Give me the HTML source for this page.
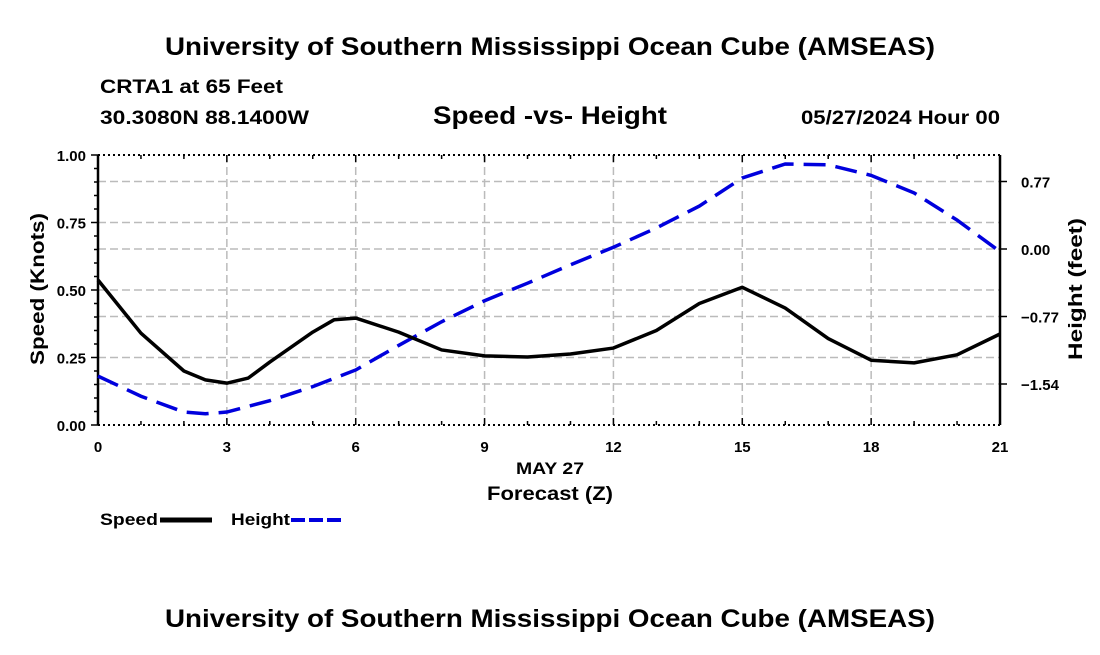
<!DOCTYPE html>
<html><head><meta charset="utf-8"><style>
body{margin:0;background:#fff;width:1100px;height:650px;overflow:hidden}
svg text{font-family:"Liberation Sans",sans-serif;font-weight:bold}
</style></head><body>
<svg id="c" width="1100" height="650">
<text x="165" y="55" font-size="25" textLength="770" lengthAdjust="spacingAndGlyphs">University of Southern Mississippi Ocean Cube (AMSEAS)</text>
<text x="100" y="93" font-size="19" textLength="183" lengthAdjust="spacingAndGlyphs">CRTA1 at 65 Feet</text>
<text x="100" y="124" font-size="19" textLength="209" lengthAdjust="spacingAndGlyphs">30.3080N  88.1400W</text>
<text x="433" y="124" font-size="25" textLength="234" lengthAdjust="spacingAndGlyphs">Speed -vs- Height</text>
<text x="801" y="124" font-size="19" textLength="199" lengthAdjust="spacingAndGlyphs">05/27/2024 Hour 00</text>
<text x="165" y="627" font-size="25" textLength="770" lengthAdjust="spacingAndGlyphs">University of Southern Mississippi Ocean Cube (AMSEAS)</text>
<g id="g"></g>
<text x="516" y="474" font-size="17" textLength="68" lengthAdjust="spacingAndGlyphs">MAY 27</text>
<text x="487" y="500" font-size="19" textLength="126" lengthAdjust="spacingAndGlyphs">Forecast (Z)</text>
<text transform="translate(44,289) rotate(-90)" font-size="19" text-anchor="middle" textLength="152" lengthAdjust="spacingAndGlyphs">Speed (Knots)</text>
<text transform="translate(1082,289) rotate(-90)" font-size="19" text-anchor="middle" textLength="142" lengthAdjust="spacingAndGlyphs">Height (feet)</text>
<g>
<text x="100" y="525" font-size="17" textLength="58" lengthAdjust="spacingAndGlyphs">Speed</text>
<line x1="160" y1="520" x2="212" y2="520" stroke="#000" stroke-width="5"/>
<text x="231" y="525" font-size="17" textLength="59" lengthAdjust="spacingAndGlyphs">Height</text>
<line x1="291" y1="520" x2="342" y2="520" stroke="#0000dd" stroke-width="4" stroke-dasharray="14,4"/>
</g>
</svg>
<script>
const hours=[0,1,2,2.5,3,3.5,4,5,5.5,6,7,8,9,10,11,12,13,14,15,16,17,18,19,20,21];
const speed=[0.537,0.34,0.20,0.167,0.155,0.174,0.233,0.344,0.39,0.396,0.344,0.278,0.256,0.252,0.263,0.285,0.35,0.45,0.51,0.433,0.32,0.24,0.23,0.26,0.337];
const hHours=[0,1,2,2.5,3,4,5,6,7,8,9,10,11,12,13,14,15,16,17,18,19,20,21];
const height=[-1.45,-1.68,-1.86,-1.88,-1.86,-1.73,-1.57,-1.38,-1.10,-0.83,-0.59,-0.39,-0.18,0.02,0.24,0.49,0.81,0.97,0.96,0.84,0.64,0.33,-0.03];
const xTicks=[0,3,6,9,12,15,18,21];
const speedTicks=[0,0.25,0.5,0.75,1.0];
const heightTicks=[-1.54,-0.77,0,0.77];
const X0=98,X1=1000,Y0=425,Y1=155;
const xs=h=>X0+(X1-X0)*h/21;
const ys=v=>Y0-(Y0-Y1)*v;
const yh=v=>249-v*87.66;
const g=document.getElementById('g');const NS='http://www.w3.org/2000/svg';
function mk(t,a){const e=document.createElementNS(NS,t);for(const k in a)e.setAttribute(k,a[k]);g.appendChild(e);return e;}
let e;
speedTicks.slice(1,-1).map(ys).concat(heightTicks.map(yh)).forEach(y=>{e=mk('line',{x1:X0,x2:X1,y1:y,y2:y,stroke:'#bbb','stroke-width':1.5,'stroke-dasharray':'8,4'});

});
xTicks.slice(1,-1).forEach(h=>{e=mk('line',{x1:xs(h),x2:xs(h),y1:Y1,y2:Y0,stroke:'#bbb','stroke-width':1.5,'stroke-dasharray':'8,4'});

});
[Y1,Y0].forEach(y=>{e=mk('line',{x1:X0,x2:X1,y1:y,y2:y,stroke:'#000','stroke-width':2,'stroke-dasharray':'2,3'});

});
e=mk('line',{x1:X0,x2:X0,y1:Y1,y2:Y0,stroke:'#000','stroke-width':2.5});


e=mk('line',{x1:X1,x2:X1,y1:Y1,y2:Y0,stroke:'#000','stroke-width':2.5});


for(let v=0;v<=1.0001;v+=0.05){e=mk('line',{x1:X0-(Math.abs(v*4-Math.round(v*4))<1e-6?7:4),x2:X0,y1:ys(v),y2:ys(v),stroke:'#000','stroke-width':1.5});

}
speedTicks.forEach(v=>{e=mk('text',{x:X0-12,y:ys(v)+6,'font-size':15,'text-anchor':'end'});e.textContent=v.toFixed(2);

});
heightTicks.forEach(v=>{e=mk('line',{x1:X1,x2:X1+7,y1:yh(v),y2:yh(v),stroke:'#000','stroke-width':1.5});


e=mk('text',{x:X1+21,y:yh(v)+6,'font-size':15});e.textContent=(v<0?'\u2212'+Math.abs(v).toFixed(2):v.toFixed(2));

});
for(let h=0;h<=21;h++){const maj=h%3==0;[Y0,Y1].forEach(y=>{e=mk('line',{x1:xs(h),x2:xs(h),y1:y,y2:y+(y==Y0?-1:1)*(maj?7:4),stroke:'#000','stroke-width':1.5});

});}
xTicks.forEach(h=>{e=mk('text',{x:xs(h),y:Y0+27,'font-size':15,'text-anchor':'middle'});e.textContent=h;

});
e=mk('polyline',{points:hHours.map((h,i)=>xs(h)+','+yh(height[i])).join(' '),fill:'none',stroke:'#0000dd','stroke-width':3.5,'stroke-dasharray':'22,10'});


e=mk('polyline',{points:hours.map((h,i)=>xs(h)+','+ys(speed[i])).join(' '),fill:'none',stroke:'#000','stroke-width':3.5,'stroke-linejoin':'round'});


</script>
</body></html>
